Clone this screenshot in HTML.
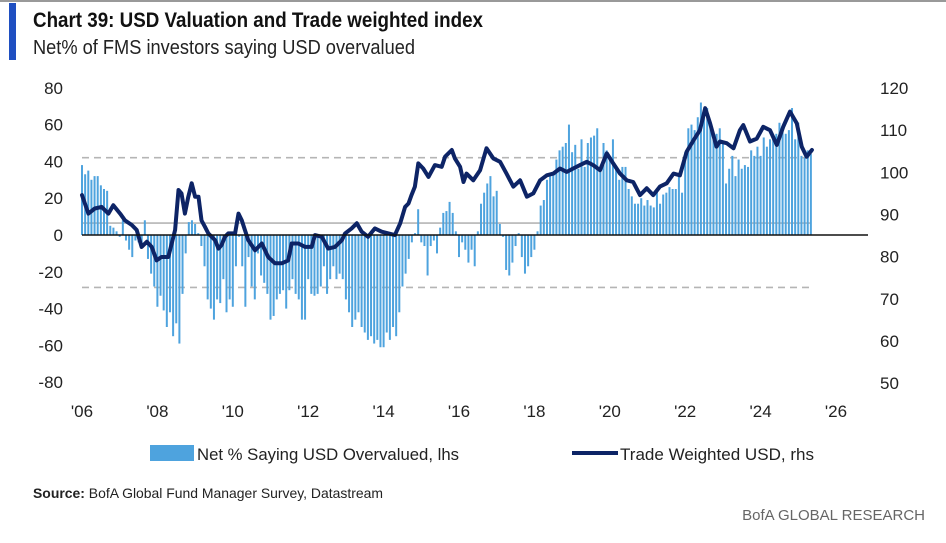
<!DOCTYPE html>
<html><head><meta charset="utf-8"><style>
html,body{margin:0;padding:0;background:#fff;}
body{width:946px;height:538px;overflow:hidden;}
text{font-family:"Liberation Sans Narrow","Liberation Sans",sans-serif;}
</style></head><body>
<svg id="chart" width="946" height="538" viewBox="0 0 946 538" xmlns="http://www.w3.org/2000/svg">
<rect x="0" y="0" width="946" height="2" fill="#999"/>
<rect x="9" y="3" width="7" height="57" fill="#1f4fc1"/>
<text x="33" y="27" font-size="21" font-weight="bold" fill="#111" textLength="450" lengthAdjust="spacingAndGlyphs">Chart 39: USD Valuation and Trade weighted index</text>
<text x="33" y="54" font-size="20" fill="#222" textLength="382" lengthAdjust="spacingAndGlyphs">Net% of FMS investors saying USD overvalued</text>
<g id="grid"></g>
<g id="bars"></g>
<g id="line"></g>
<g id="axes"></g>
<rect x="150" y="445" width="44" height="16" fill="#4ea3de"/>
<text x="197" y="460" font-size="17" fill="#222" textLength="262" lengthAdjust="spacingAndGlyphs">Net % Saying USD Overvalued, lhs</text>
<line x1="572" y1="453" x2="618" y2="453" stroke="#0d2466" stroke-width="4"/>
<text x="620" y="460" font-size="17" fill="#222" textLength="194" lengthAdjust="spacingAndGlyphs">Trade Weighted USD, rhs</text>
<text x="33" y="498" font-size="14" fill="#222" textLength="350" lengthAdjust="spacingAndGlyphs"><tspan font-weight="bold">Source:</tspan> BofA Global Fund Manager Survey, Datastream</text>
<text x="925" y="520" font-size="15" fill="#666" text-anchor="end">BofA GLOBAL RESEARCH</text>
</svg>
<script>
const barStartYear = 2006;
const barValues = [
38,33,35,30,32,32,27,25,24,5,4,2,
-1,8,-3,-8,-12,-3,-4,-6,8,-13,-21,-28,
-39,-33,-41,-50,-42,-55,-48,-59,-32,-10,7,8,
6,1,-6,-17,-35,-40,-46,-35,-37,-24,-42,-35,
-39,-17,-1,-17,-39,-12,-28,-35,-10,-22,-26,-32,
-46,-44,-35,-32,-30,-40,-30,-24,-32,-35,-46,-46,
-24,-32,-33,-32,-28,-17,-32,-24,-17,-24,-21,-24,
-35,-42,-50,-46,-42,-50,-53,-57,-55,-59,-57,-61,
-61,-53,-57,-50,-55,-42,-28,-21,-13,-4,1,14,
-4,-6,-22,-6,-3,-10,4,12,13,18,12,2,
-12,-4,-8,-15,-8,-17,2,17,23,28,32,21,
24,6,-1,-19,-22,-15,-6,1,-12,-21,-17,-12,
-8,2,16,19,30,32,34,41,46,48,50,60,
45,49,36,52,37,50,53,54,58,37,50,46,
41,52,36,30,37,37,25,21,17,17,20,16,
19,16,15,25,17,22,23,26,25,25,32,23,
45,58,60,57,64,72,68,69,61,54,55,58,
50,28,36,43,32,41,36,38,37,46,43,48,
43,53,48,52,53,55,61,58,55,57,69,52,
61,43,42,46,44
];
const lineYears = [2006.0,2006.17,2006.34,2006.52,2006.70,2006.83,2007.01,2007.14,2007.32,2007.45,2007.58,2007.72,2007.85,2007.98,2008.11,2008.29,2008.38,2008.47,2008.56,2008.64,2008.73,2008.82,2008.91,2009.0,2009.09,2009.17,2009.26,2009.35,2009.53,2009.62,2009.70,2009.79,2009.88,2010.06,2010.15,2010.24,2010.32,2010.41,2010.59,2010.77,2010.94,2011.12,2011.30,2011.47,2011.56,2011.74,2011.92,2012.09,2012.18,2012.36,2012.53,2012.71,2012.89,2012.98,2013.15,2013.29,2013.42,2013.59,2013.77,2013.95,2014.13,2014.30,2014.44,2014.57,2014.66,2014.74,2014.83,2014.92,2015.05,2015.19,2015.36,2015.54,2015.63,2015.81,2015.89,2016.03,2016.12,2016.20,2016.38,2016.56,2016.73,2016.91,2017.09,2017.26,2017.44,2017.62,2017.80,2017.97,2018.15,2018.33,2018.50,2018.68,2018.86,2019.03,2019.21,2019.39,2019.56,2019.74,2019.92,2020.09,2020.27,2020.45,2020.62,2020.80,2020.98,2021.15,2021.33,2021.51,2021.69,2021.86,2022.04,2022.22,2022.39,2022.53,2022.66,2022.83,2022.92,2023.10,2023.28,2023.45,2023.54,2023.72,2023.90,2024.07,2024.25,2024.43,2024.60,2024.78,2024.96,2025.09,2025.22,2025.36];
const lineValues = [94.6,90.2,91.4,91.8,90.2,92.2,90.2,88.6,87.5,86.3,82.3,83.5,82.3,79.1,79.9,79.9,83.1,86.3,95.8,95.0,90.2,94.2,97.4,94.2,94.2,88.6,87.1,85.5,83.9,81.9,82.7,84.7,85.5,85.5,90.2,88.6,86.3,83.9,81.5,83.1,79.9,78.4,78.4,79.1,83.1,83.1,82.3,82.3,85.1,84.7,81.9,82.3,83.9,85.5,86.7,87.9,85.9,84.7,86.7,85.9,85.5,85.1,87.9,91.8,92.6,94.6,96.6,102.1,100.9,98.9,101.7,101.3,103.7,105.3,103.3,101.3,97.7,99.7,98.1,100.5,105.7,103.3,102.5,99.7,96.6,98.1,94.2,95.0,98.1,99.3,99.7,100.9,100.1,100.9,101.7,102.5,101.7,100.5,104.5,102.1,99.7,98.1,97.7,94.6,96.2,94.6,96.6,97.4,99.7,99.3,104.9,107.6,110.0,115.2,111.6,106.1,107.3,106.9,105.7,110.0,111.2,107.3,108.0,110.8,110.0,106.5,110.8,114.4,111.6,106.1,103.7,105.3];
const leftTicks = [80,60,40,20,0,-20,-40,-60,-80];
const rightTicks = [120,110,100,90,80,70,60,50];
const xTickYears = [2006,2008,2010,2012,2014,2016,2018,2020,2022,2024,2026];
const xTickLabels = ["'06","'08","'10","'12","'14","'16","'18","'20","'22","'24","'26"];
const refLines = [42,6.5,-28.5];

const NS = "http://www.w3.org/2000/svg";
function xS(y){ return 82 + (y-2006)*37.7; }
function yL(v){ return 235 - v*1.84; }
function yR(v){ return 88 + (120-v)*4.215; }
function mk(tag, attrs, parent){ const e=document.createElementNS(NS,tag); for(const k in attrs) e.setAttribute(k,attrs[k]); parent.appendChild(e); return e; }
const grid=document.getElementById('grid'), bars=document.getElementById('bars'), line=document.getElementById('line'), axes=document.getElementById('axes');

refLines.forEach((v,i)=>{
  const l=mk('line',{x1:82,x2:810,y1:yL(v),y2:yL(v),stroke:'#b5b5b5','stroke-width':1.6,'stroke-dasharray':i===1?'none':'7,5'},grid);
  
  
});

barValues.forEach((v,i)=>{
  const x=xS(barStartYear+i/12);
  const y0=yL(0), y1=yL(v);
  const r=mk('rect',{x:x-1,y:Math.min(y0,y1),width:2,height:Math.abs(y1-y0),fill:'#4ea3de'},bars);
  
  
});

const zl=mk('line',{x1:82,x2:868,y1:yL(0),y2:yL(0),stroke:'#111','stroke-width':1.6},axes);



const d=lineYears.map((y,i)=>(i?'L':'M')+xS(y).toFixed(1)+','+yR(lineValues[i]).toFixed(1)).join(' ');
const p=mk('path',{d:d,fill:'none',stroke:'#0d2466','stroke-width':4,'stroke-linejoin':'round','stroke-linecap':'round'},line);



leftTicks.forEach(v=>{
  const t=mk('text',{x:63,y:yL(v)+6,'font-size':17,fill:'#222','text-anchor':'end'},axes);
  t.textContent=v;
  
  
});
rightTicks.forEach(v=>{
  const t=mk('text',{x:880,y:yR(v)+6,'font-size':17,fill:'#222'},axes);
  t.textContent=v;
  
  
});
xTickYears.forEach((y,i)=>{
  const t=mk('text',{x:xS(y),y:417,'font-size':17,fill:'#222','text-anchor':'middle'},axes);
  t.textContent=xTickLabels[i];
  
  
});
</script>
</body></html>
